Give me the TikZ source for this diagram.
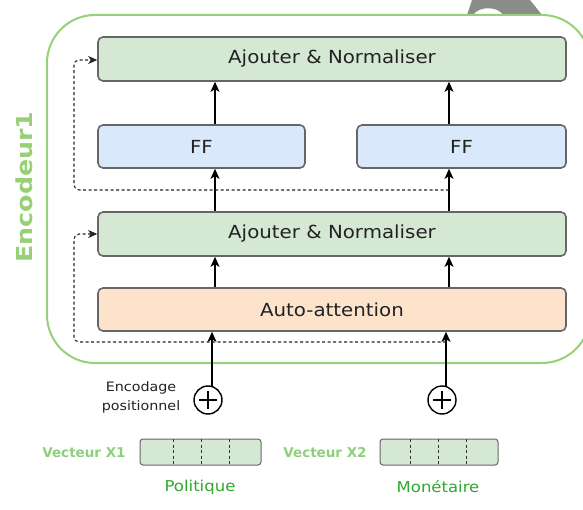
\documentclass[tikz,border=0pt]{standalone}
\usepackage{fontspec}
\setmainfont{DejaVu Sans}[FakeStretch=1.1]
\newfontfamily\titlefont{DejaVu Sans}[FakeStretch=1.15]
\newfontfamily\labelfont{DejaVu Sans}
\usetikzlibrary{arrows.meta}

\definecolor{boxline}{HTML}{666666}
\definecolor{addnorm}{HTML}{D5E8D4}
\definecolor{ffblue}{HTML}{DAE8FC}
\definecolor{attnpeach}{HTML}{FDE3CC}
\definecolor{framegreen}{HTML}{97D077}
\definecolor{labelgreen}{HTML}{8DD07A}
\definecolor{wordgreen}{HTML}{2EA82E}
\definecolor{txtgray}{HTML}{222222}
\definecolor{blobgray}{HTML}{8C8C8C}

\tikzset{
  block/.style={draw=boxline, line width=1.6pt, rounded corners=5pt,
    inner sep=0pt, font=\fontsize{18}{21}\selectfont, text=txtgray},
  flow/.style={-{Stealth[length=10pt,width=9pt,inset=2.5pt]}, line width=1.3pt},
  skip/.style={-{Stealth[length=9pt,width=8pt,inset=2.5pt]}, dash pattern=on 3pt off 2.5pt,
    line width=1.1pt, rounded corners=5pt, black!85},
  plusnode/.style={circle, draw=black, line width=1.4pt, minimum size=28pt, inner sep=0pt},
  vec/.style={draw=boxline, fill=addnorm, line width=1pt, rounded corners=3pt,
    minimum height=26pt, inner sep=0pt},
  divider/.style={dash pattern=on 3pt off 2.5pt, line width=0.9pt, black!80},
  veclabel/.style={font=\labelfont\bfseries\fontsize{13.5}{15}\selectfont, text=labelgreen},
  wordlabel/.style={font=\fontsize{15}{17}\selectfont, text=wordgreen}
}

\begin{document}
\begin{tikzpicture}[x=1pt, y=-1pt]
\useasboundingbox (0,0) rectangle (583,510);
\clip (0,0) rectangle (583,510);

% grey shape at the top edge
\fill[blobgray] (472,0) -- (530,0) -- (542,15) -- (503,15)
  .. controls (499,7) and (480,5) .. (473,15) -- (467,15) -- cycle;

% encoder frame
\draw[framegreen, line width=2pt, rounded corners=48pt] (47,15) rectangle (590,363);
\node[rotate=90, font=\titlefont\bfseries\fontsize{22}{24}\selectfont, text=framegreen] (enc) at (24,187) {Encodeur1};

% blocks
\node[block, fill=addnorm, minimum width=468pt, minimum height=44pt] (an2) at (332,59) {Ajouter \& Normaliser};
\node[block, fill=ffblue, minimum width=207pt, minimum height=43pt] (ff1) at (201.5,146.5) {FF};
\node[block, fill=ffblue, minimum width=209pt, minimum height=43pt] (ff2) at (461.5,146.5) {FF};
\node[block, fill=addnorm, minimum width=468pt, minimum height=44pt] (an1) at (332,234) {Ajouter \& Normaliser};
\node[block, fill=attnpeach, minimum width=468pt, minimum height=43pt] (attn) at (332,309.5) {Auto-attention};

% positional encoding
\node[plusnode] (p1) at (208,400) {};
\node[plusnode] (p2) at (442,400) {};
\foreach \p in {p1,p2}
  \draw[line width=1.4pt] ([xshift=-9pt]\p.center) -- ([xshift=9pt]\p.center)
                          ([yshift=-9pt]\p.center) -- ([yshift=9pt]\p.center);
\node[align=center, font=\fontsize{13}{19}\selectfont, text=txtgray] (pe) at (141,397) {Encodage\\positionnel};

% vertical flow
\coordinate (in1) at (212,386);
\coordinate (in2) at (446,386);
\draw[flow] (in1) -- (in1 |- attn.south);
\draw[flow] (in2) -- (in2 |- attn.south);
\draw[flow] (attn.north -| 215,0) -- (an1.south -| 215,0);
\draw[flow] (attn.north -| 449,0) -- (an1.south -| 449,0);
\draw[flow] (an1.north -| 215,0) -- (ff1.south -| 215,0);
\draw[flow] (an1.north -| 449,0) -- (ff2.south -| 449,0);
\draw[flow] (ff1.north -| 215,0) -- (an2.south -| 215,0);
\draw[flow] (ff2.north -| 449,0) -- (an2.south -| 449,0);

% residual connections
\coordinate (r1) at (446,342);
\coordinate (r2) at (449,190);
\draw[skip] (r1) -- (74,342) -- (74,234) -- (an1.west);
\draw[skip] (r2) -- (74,190) -- (74,60) -- (an2.west |- 0,60);

% input vectors
\node[vec, minimum width=121pt] (v1) at (200.5,452) {};
\node[vec, minimum width=118pt] (v2) at (439,452) {};
\foreach \x in {173,201,229} \draw[divider] (\x,439) -- (\x,465);
\foreach \x in {410,438,466} \draw[divider] (\x,439) -- (\x,465);
\node[veclabel] (l1) at (84,453) {Vecteur X1};
\node[veclabel] (l2) at (325,453) {Vecteur X2};
\node[wordlabel] (w1) at (200,487) {Politique};
\node[wordlabel] (w2) at (438,487) {Monétaire};
\end{tikzpicture}
\end{document}
